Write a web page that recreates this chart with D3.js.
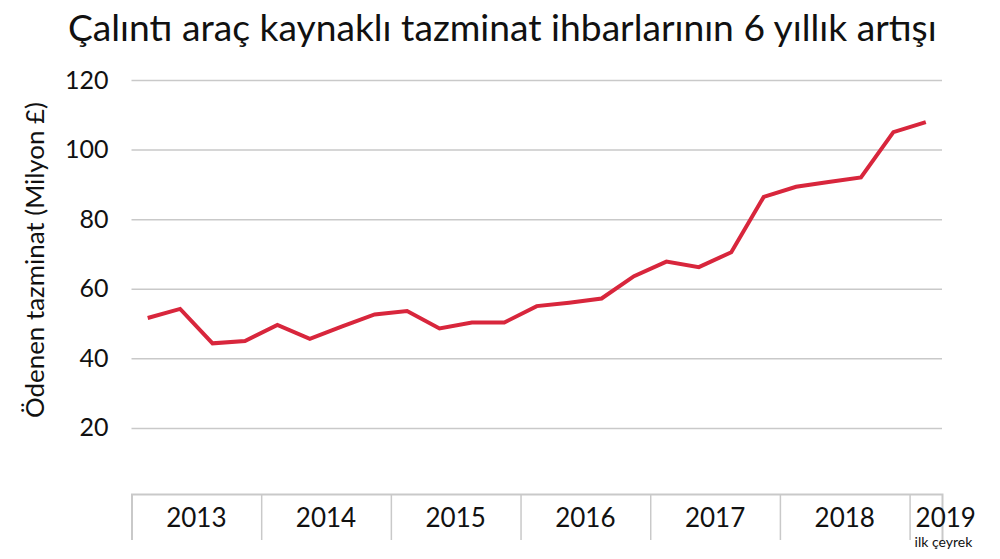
<!DOCTYPE html>
<html>
<head>
<meta charset="utf-8">
<script src="https://cdn.jsdelivr.net/npm/d3@7"></script>
<style>
  body { margin: 0; background: #fff; }
  text { font-family: "Lato", "Open Sans", sans-serif; fill: #111; }
</style>
</head>
<body>
<div id="chart"></div>
<script>
// Data: quarterly payouts, 2013 Q1 .. 2019 Q1
const years = ["2013", "2014", "2015", "2016", "2017", "2018", "2019"];
const yTicks = [20, 40, 60, 80, 100, 120];
const claims = [
  51.6, 54.2, 44.3, 45.0,   // 2013
  49.6, 45.6, 49.2, 52.6,   // 2014
  53.6, 48.6, 50.3, 50.3,   // 2015
  55.0, 56.0, 57.2, 63.6,   // 2016
  67.8, 66.2, 70.5, 86.4,   // 2017
  89.3, 90.7, 92.0, 105.0,  // 2018
  107.9                     // 2019 Q1
];
const titleText = "Çalıntı araç kaynaklı tazminat ihbarlarının 6 yıllık artışı";
const yLabel = "Ödenen tazminat (Milyon £)";
const lastNote = "ilk çeyrek";

const W = 1000, H = 559;
const margin = {top: 80, right: 58, bottom: 65, left: 131.5},
      width = W - margin.left - margin.right,
      height = H - margin.top - margin.bottom;

const root = d3.select("#chart")
  .append("svg")
    .attr("width", W)
    .attr("height", H);

const svg = root.append("g")
    .attr("transform", `translate(${margin.left},${margin.top})`);

// fit a text's font size so it spans a given width
function fitText(sel, size, target) {
  sel.style("font-size", size + "px");
  const w = sel.node().getComputedTextLength();
  sel.style("font-size", (size * target / w) + "px");
}

// Title
const title = root.append("text")
    .attr("x", 68)
    .attr("y", 41)
    .text(titleText);
fitText(title, 34, 869);

// Scales: one unit per quarter on x
const x = d3.scaleLinear()
    .domain([0, 25])
    .range([0, width]);

const y = d3.scaleLinear()
    .domain([1, 120])   // baseline sits just above zero
    .range([height, 0]);

// Gridlines + tick labels
const yAxis = svg.append("g")
    .call(d3.axisLeft(y).tickValues(yTicks).tickSize(-width).tickPadding(23));
yAxis.select(".domain").remove();
yAxis.selectAll(".tick line")
    .attr("stroke", "#c9c9c9")
    .attr("stroke-width", 1.5);
yAxis.selectAll(".tick text")
    .style("font-size", "25px")
    .attr("fill", "#111");

// Y-axis label
const yl = root.append("text")
    .attr("text-anchor", "middle")
    .attr("transform", "rotate(-90)")
    .attr("x", -260)
    .attr("y", 34)
    .attr("dominant-baseline", "central")
    .text(yLabel);
fitText(yl, 26, 316);

// Bottom axis: baseline and year dividers
const xAxis = svg.append("g")
    .attr("transform", `translate(0, ${height})`)
    .call(d3.axisBottom(x)
      .tickValues(years.map((d, i) => i * 4))
      .tickSize(46)
      .tickFormat(""));
xAxis.select(".domain")
    .attr("stroke", "#c9c9c9")
    .attr("stroke-width", 2);
xAxis.selectAll(".tick line")
    .attr("stroke", "#c9c9c9")
    .attr("stroke-width", 1.5);

// Year labels, centred in each year band (2019 has one quarter only)
svg.selectAll(".year")
    .data(years)
    .enter().append("text")
    .attr("class", "year")
    .attr("text-anchor", (d, i) => i === years.length - 1 ? "start" : "middle")
    .attr("x", (d, i) => i === years.length - 1 ? x(i * 4) + 6 : x(i * 4 + 2))
    .attr("y", height + 33)
    .style("font-size", "26px")
    .text(d => d);

svg.append("text")
    .attr("x", x((years.length - 1) * 4) + 5)
    .attr("y", height + 53)
    .style("font-size", "14px")
    .text(lastNote);

// The line
svg.append("path")
    .datum(claims)
    .attr("fill", "none")
    .attr("stroke", "#d8263c")
    .attr("stroke-width", 4)
    .attr("d", d3.line()
      .x((d, i) => x(i + 0.5))
      .y(d => y(d)));
</script>
</body>
</html>
